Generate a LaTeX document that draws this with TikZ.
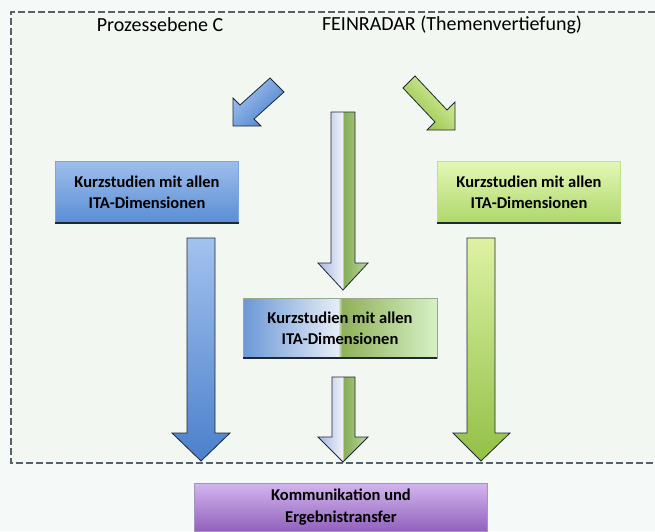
\documentclass[tikz,border=0pt]{standalone}
\usepackage{fontspec}
\setmainfont{Carlito}

\definecolor{pagebg}{HTML}{F5F9F7}
\definecolor{framebg}{HTML}{F2F7F2}
\definecolor{framegrey}{HTML}{56616C}
\definecolor{edgedark}{HTML}{1E2833}
\definecolor{blueup}{HTML}{A3C2EE}
\definecolor{bluedown}{HTML}{4B80CC}
\definecolor{boxblueup}{HTML}{9EBEEB}
\definecolor{boxbluedown}{HTML}{5A8ED6}
\definecolor{greenup}{HTML}{DDF2A3}
\definecolor{greendown}{HTML}{92C046}
\definecolor{boxgreenup}{HTML}{E4F7B6}
\definecolor{boxgreendown}{HTML}{ADD86A}
\definecolor{purpleup}{HTML}{D2B6EE}
\definecolor{purpledown}{HTML}{9262BD}
\definecolor{mixblue}{HTML}{6B98D6}
\definecolor{mixpale}{HTML}{E6ECF7}
\definecolor{mixolive}{HTML}{90B05A}
\definecolor{mixlight}{HTML}{D6F1C6}
\definecolor{arrblue}{HTML}{A6B6E0}
\definecolor{arrwhite}{HTML}{EEF1F8}
\definecolor{arrgreen}{HTML}{86AD58}
\definecolor{arrlight}{HTML}{B9D79C}

\pgfdeclarehorizontalshading{kurzmix}{100bp}{color(0bp)=(mixblue); color(25bp)=(mixblue); color(49.5bp)=(mixpale); color(50.5bp)=(mixolive); color(75bp)=(mixlight); color(100bp)=(mixlight)}
\pgfdeclarehorizontalshading{arrowmix}{100bp}{color(0bp)=(arrblue); color(25bp)=(arrblue); color(49.5bp)=(arrwhite); color(50.5bp)=(arrgreen); color(75bp)=(arrlight); color(100bp)=(arrlight)}

\tikzset{
  titletext/.style={font=\fontsize{20}{24}\selectfont, inner sep=0pt},
  boxtext/.style={font=\bfseries\fontsize{16.5}{21}\selectfont, align=center, inner sep=0pt},
  kbox/.style={boxtext, minimum width=183pt, minimum height=61pt},
  bluebox/.style={kbox, top color=boxblueup, bottom color=boxbluedown, draw=boxbluedown!80!white, line width=0.4pt},
  greenbox/.style={kbox, top color=boxgreenup, bottom color=boxgreendown, draw=boxgreendown!80!white, line width=0.4pt},
  mixbox/.style={boxtext, minimum width=194pt, minimum height=60pt, shading=kurzmix, draw=mixlight!70!black, line width=0.4pt},
  purplebox/.style={boxtext, font=\bfseries\fontsize{16.5}{22}\selectfont, minimum width=293pt, minimum height=48pt, top color=purpleup, bottom color=purpledown, draw=purpleup!80!black, line width=0.4pt},
  shadowline/.style={edgedark, line width=1.6pt},
  blockarrow/.style={draw=edgedark, line width=0.8pt, line join=miter},
  bluearrow/.style={blockarrow, top color=blueup, bottom color=bluedown},
  greenarrow/.style={blockarrow, top color=greenup, bottom color=greendown},
  mixarrow/.style={blockarrow, shading=arrowmix},
  framedash/.style={framegrey, dashed, dash pattern=on 7pt off 3pt, line width=1.2pt}
}

\begin{document}
\begin{tikzpicture}[x=1pt,y=-1pt]
	\useasboundingbox (0,0) rectangle (655,531);
	\fill[pagebg] (0,0) rectangle (655,531);
	\fill[framebg] (11,12) rectangle (655,463);
	\draw[framedash] (655,12) -- (11,12) -- (11,463) -- (655,463);

	% headings
	\node[titletext] (proz) at (160,25) {Prozessebene C};
	\node[titletext] (fein) at (452,25) {FEINRADAR (Themenvertiefung)};

	% diagonal arrows
	\shade[bluearrow, shading angle=45] (270,78) -- (284,92) -- (254,119) -- (261,126) -- (233,126) -- (233,98) -- (240,105) -- cycle;
	\shade[greenarrow, shading angle=-45] (403,88) -- (415,76) -- (447,110) -- (455,102) -- (455,130) -- (427,130) -- (435,122) -- cycle;

	% boxes
	\node[bluebox] (kleft) at (147,192) {Kurzstudien mit allen\\ITA-Dimensionen};
	\node[greenbox] (kright) at (529,192) {Kurzstudien mit allen\\ITA-Dimensionen};
	\node[mixbox] (kmid) at (340,328) {Kurzstudien mit allen\\ITA-Dimensionen};
	\draw[shadowline] (kleft.south west) -- (kleft.south east);
	\draw[shadowline] (kright.south west) -- (kright.south east);
	\draw[shadowline] (kmid.south west) -- (kmid.south east);

	% vertical arrows
	\shade[mixarrow] (331,112) -- (355,112) -- (355,263) -- (368,263) -- (343,290) -- (318,263) -- (331,263) -- cycle;
	\shade[bluearrow] (187,238) -- (215,238) -- (215,433) -- (230,433) -- (201,461) -- (172,433) -- (187,433) -- cycle;
	\shade[greenarrow] (467,238) -- (495,238) -- (495,433) -- (510,433) -- (481,461) -- (453,433) -- (467,433) -- cycle;
	\shade[mixarrow] (332,377) -- (355,377) -- (355,437) -- (368,437) -- (343,462) -- (318,437) -- (332,437) -- cycle;

	\node[purplebox] (komm) at (341,507) {Kommunikation und\\Ergebnistransfer};
\end{tikzpicture}
\end{document}
